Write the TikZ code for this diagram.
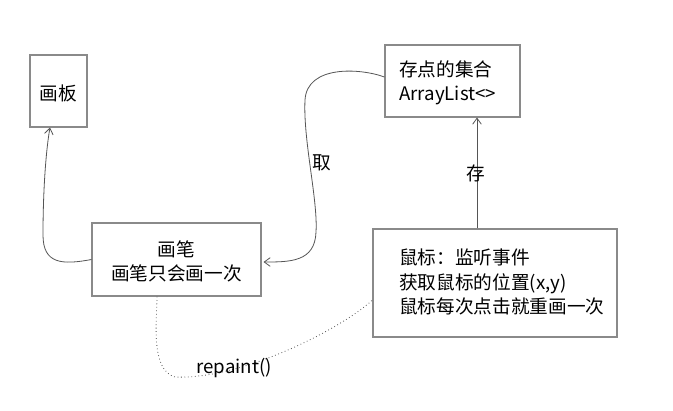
\documentclass[tikz,border=0pt]{standalone}
\usepackage{fontspec}
\setmainfont{Noto Sans CJK SC}
\usetikzlibrary{arrows.meta,calc}
\definecolor{boxgray}{HTML}{8A8A8A}
\definecolor{linegray}{HTML}{555555}
\begin{document}
\begin{tikzpicture}[x=0.75pt,y=-0.75pt,
  box/.style={draw=boxgray,line width=0.8pt,rectangle,inner sep=0pt},
  txt/.style={inner sep=0pt,font=\fontsize{14}{18.4}\selectfont,text=black},
  conn/.style={draw=linegray,line width=0.6pt},
  tip/.style={-{Straight Barb[length=4.5pt,width=6.5pt]}}]
\useasboundingbox[fill=white] (0,0) rectangle (673,410);
% boxes
\node[box,minimum width=42.75pt,minimum height=54pt] (hb) at (58.5,91) {};
\node[box,minimum width=126.75pt,minimum height=54.75pt] (bi) at (176.5,259.5) {};
\node[box,minimum width=101.25pt,minimum height=54pt] (cd) at (452.5,81) {};
\node[box,minimum width=183pt,minimum height=81pt] (sb) at (495,283) {};
% texts
\node[txt] (thb) at (58.5,93) {画板};
\node[txt,align=center] (tbi) at (176.5,261.5) {画笔\\画笔只会画一次};
\node[txt,align=left,anchor=west] (tcd) at (399,83) {存点的集合\\ArrayList<>};
\node[txt,align=left,anchor=west] (tsb) at (399,282) {鼠标：监听事件\\获取鼠标的位置(x,y)\\鼠标每次点击就重画一次};
% connectors
\draw[conn,tip] (bi.west) .. controls (62,265) and (43,264) .. (43,235)
  .. controls (43,190) and (46,150) .. ($(hb.south)+(-8.5,0)$);
\draw[conn,tip] ($(cd.west)+(0,-4)$) .. controls (360,68) and (307,65) .. (305,100)
  .. controls (303,140) and (318,200) .. (316,232)
  .. controls (315,262) and (290,262) .. ($(bi.east)+(2,2.5)$);
\node[txt] (lq) at (322,163) {取};
\draw[conn,tip] ($(sb.north)+(-18,0)$) -- ($(cd.south)+(24.5,0)$);
\node[txt] (lc) at (476,173) {存};
\draw[conn,dotted,line width=0.6pt] ($(bi.south)+(-19.5,0)$) .. controls (157,320) and (150,370) .. (175,377)
  .. controls (240,380) and (340,330) .. ($(sb.west)+(0,17)$);
\node[txt] (lr) at (234,368) {repaint()};
\end{tikzpicture}
\end{document}
